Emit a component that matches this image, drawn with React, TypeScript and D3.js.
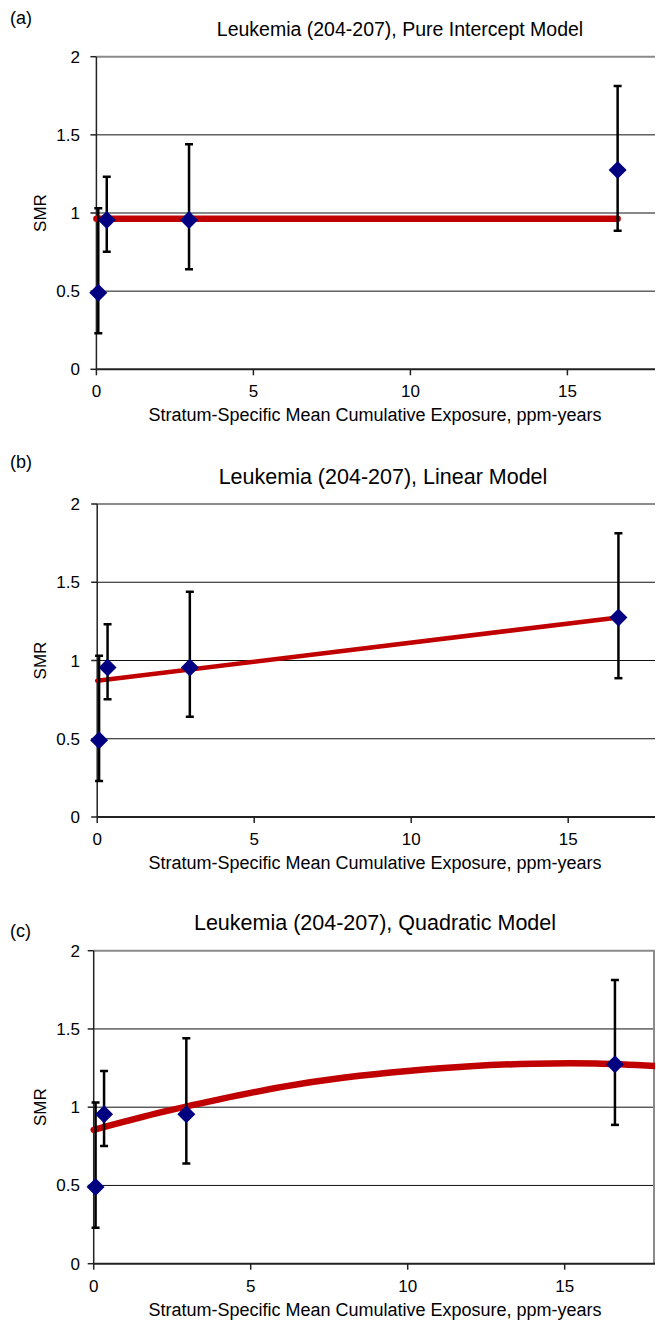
import React from "react";
import * as d3 from "d3";

// values
const panelLabels = ["(a)", "(b)", "(c)"];
const titles = [
  "Leukemia (204-207), Pure Intercept Model",
  "Leukemia (204-207), Linear Model",
  "Leukemia (204-207), Quadratic Model",
];
const exposure = [0.06, 0.33, 2.95, 16.6];
const smr = [0.49, 0.955, 0.955, 1.275];
const ciLow = [0.23, 0.752, 0.64, 0.887];
const ciHigh = [1.03, 1.232, 1.44, 1.813];

const yTicks = [0, 0.5, 1, 1.5, 2];
const xTicks = [0, 5, 10, 15];

const interceptFitX = [0, 16.6];
const interceptFitY = [0.963, 0.963];
const linearFitX = [0, 16.6];
const linearFitY = [0.871, 1.275];
const quadFitX = [0, 2, 4, 6, 8, 10, 12, 14, 16, 18];
const quadFitY = [0.855, 0.96, 1.05, 1.13, 1.19, 1.232, 1.262, 1.278, 1.279, 1.262];

const fits = [
  { xs: interceptFitX, ys: interceptFitY, width: 6.5 },
  { xs: linearFitX, ys: linearFitY, width: 4.5 },
  { xs: quadFitX, ys: quadFitY, width: 6.5 },
];

// layout of the three stacked charts
const layout = [
  { top: 56.7, bottom: 369.3, left: 96.4, titleX: 400, titleY: 36, titleSize: 19.5, labelY: 24, rightBorder: false },
  { top: 504, bottom: 817, left: 97.2, titleX: 383, titleY: 484, titleSize: 21.5, labelY: 468, rightBorder: false },
  { top: 950.7, bottom: 1263.7, left: 93.7, titleX: 375, titleY: 930, titleSize: 21.5, labelY: 937, rightBorder: true },
];

const W = 656;
const H = 1322;
const RIGHT = 655;
const PX_PER_UNIT = 31.4;
const FONT = "'Liberation Sans', Arial, sans-serif";

function Panel({ idx }: { idx: number }) {
  const L = layout[idx];
  const x = d3.scaleLinear().domain([0, 18]).range([L.left, L.left + 18 * PX_PER_UNIT]);
  const y = d3.scaleLinear().domain([0, 2]).range([L.bottom, L.top]);
  const fit = fits[idx];
  const pts: [number, number][] = fit.xs.map((v, i) => [v, fit.ys[i]]);
  const line = d3
    .line<[number, number]>()
    .x((d) => x(d[0]))
    .y((d) => y(d[1]))
    .curve(d3.curveNatural);
  const clipId = `clip-${idx}`;
  const half = 9;

  return (
    <g fontFamily={FONT}>
      <defs>
        <clipPath id={clipId}>
          <rect x={L.left - 12} y={L.top - 10} width={RIGHT - L.left + 12} height={L.bottom - L.top + 20} />
        </clipPath>
      </defs>
      <text x={10} y={L.labelY} fontSize={18} fill="#000">{panelLabels[idx]}</text>
      <text x={L.titleX} y={L.titleY} fontSize={L.titleSize} textAnchor="middle" fill="#000">{titles[idx]}</text>

      {/* gridlines */}
      {yTicks.filter((t) => t > 0 && t < 2).map((t) => (
        <line key={t} x1={L.left} x2={RIGHT} y1={y(t)} y2={y(t)} stroke="#111" strokeWidth={1} />
      ))}
      {/* plot frame top / right */}
      <line x1={L.left} x2={RIGHT} y1={y(2)} y2={y(2)} stroke="#8a8a8a" strokeWidth={2} />
      {L.rightBorder && <line x1={RIGHT - 1} x2={RIGHT - 1} y1={y(2)} y2={y(0)} stroke="#8a8a8a" strokeWidth={2} />}

      {/* y axis */}
      <line x1={L.left} x2={L.left} y1={y(2)} y2={y(0)} stroke="#222" strokeWidth={1.5} />
      {yTicks.map((t) => (
        <g key={t}>
          <line x1={L.left - 6} x2={L.left} y1={y(t)} y2={y(t)} stroke="#222" strokeWidth={1.5} />
          <text x={80} y={y(t) + 6} fontSize={17} textAnchor="end" fill="#000">{d3.format("")(t)}</text>
        </g>
      ))}
      <text
        transform={`translate(${46},${(L.top + L.bottom) / 2}) rotate(-90)`}
        fontSize={17}
        textAnchor="middle"
        fill="#000"
      >SMR</text>

      {/* x axis */}
      <line x1={L.left} x2={RIGHT} y1={y(0)} y2={y(0)} stroke="#222" strokeWidth={2} />
      {xTicks.map((t) => (
        <g key={t}>
          <line x1={x(t)} x2={x(t)} y1={y(0)} y2={y(0) + 6} stroke="#222" strokeWidth={1.5} />
          <text x={x(t)} y={y(0) + 28} fontSize={17} textAnchor="middle" fill="#000">{t}</text>
        </g>
      ))}
      <text x={375} y={y(0) + 52} fontSize={18} textAnchor="middle" fill="#000">
        Stratum-Specific Mean Cumulative Exposure, ppm-years
      </text>

      <g clipPath={`url(#${clipId})`}>
        <path d={line(pts) ?? ""} fill="none" stroke="#C00000" strokeWidth={fit.width} strokeLinecap="round" />
        {exposure.map((e, i) => (
          <g key={i} stroke="#000" strokeWidth={2.5}>
            <line x1={x(e)} x2={x(e)} y1={y(ciLow[i])} y2={y(ciHigh[i])} />
            <line x1={x(e) - 4} x2={x(e) + 4} y1={y(ciLow[i])} y2={y(ciLow[i])} />
            <line x1={x(e) - 4} x2={x(e) + 4} y1={y(ciHigh[i])} y2={y(ciHigh[i])} />
          </g>
        ))}
        {exposure.map((e, i) => (
          <path
            key={i}
            d={`M${x(e)},${y(smr[i]) - half}L${x(e) + half},${y(smr[i])}L${x(e)},${y(smr[i]) + half}L${x(e) - half},${y(smr[i])}Z`}
            fill="#000080"
          />
        ))}
      </g>
    </g>
  );
}

export default function App() {
  return (
    <div style={{ position: "absolute", left: 0, top: 0, width: W, height: H, background: "#fff" }}>
      <svg width={W} height={H} viewBox={`0 0 ${W} ${H}`} style={{ display: "block" }}>
        <rect width={W} height={H} fill="#fff" />
        {layout.map((_, i) => (
          <Panel key={i} idx={i} />
        ))}
      </svg>
    </div>
  );
}
